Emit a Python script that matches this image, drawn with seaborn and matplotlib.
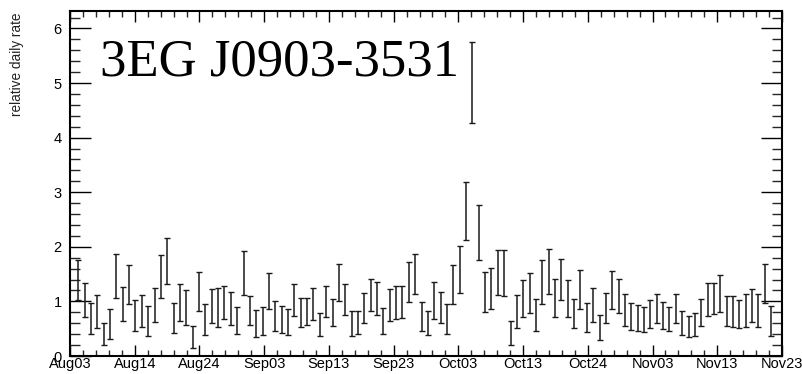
import numpy as np
import pandas as pd
import matplotlib
matplotlib.use("Agg")
import matplotlib.pyplot as plt
from matplotlib.ticker import FixedLocator, MultipleLocator
import seaborn as sns

# ---------------- data ----------------
source_name = "3EG J0903-3531"
y_label = "relative daily rate"
date_labels = ["Aug03", "Aug14", "Aug24", "Sep03", "Sep13", "Sep23",
               "Oct03", "Oct13", "Oct24", "Nov03", "Nov13", "Nov23"]
axis_days = 112  # Aug03 -> Nov23

rate = [1.39, 1.02, 0.69, 0.81, 0.41, 0.59, 1.47, 0.95, 1.31, 0.74,
        0.82, 0.64, 0.93, 1.46, 1.74, 0.70, 0.98, 0.89, 0.35, 1.18,
        0.67, 0.92, 0.89, 0.98, 0.87, 0.65, 1.52, 0.83, 0.60, 0.64,
        1.19, 0.73, 0.67, 0.63, 1.03, 0.80, 0.82, 0.95, 0.58, 1.00,
        0.80, 1.34, 1.04, 0.60, 0.61, 0.885, 1.12, 1.05, 0.64, 0.93,
        0.98, 0.99, 1.36, 1.50, 0.72, 0.60, 1.01, 0.89, 0.68, 1.31,
        1.59, 2.66, 5.01, 2.26, 1.17, 1.23, 1.53, 1.52, 0.43, 0.81,
        1.06, 1.15, 0.75, 1.36, 1.55, 1.06, 1.40, 1.06, 0.78, 1.22,
        0.71, 0.93, 0.52, 0.88, 1.21, 1.10, 0.84, 0.73, 0.69, 0.675,
        0.77, 0.87, 0.74, 0.67, 0.87, 0.61, 0.54, 0.57, 0.80, 1.04,
        1.05, 1.15, 0.82, 0.81, 0.77, 0.83, 0.93, 0.83, 1.33, 0.64]
err = [0.37, 0.31, 0.28, 0.30, 0.20, 0.27, 0.40, 0.31, 0.36, 0.28,
       0.29, 0.27, 0.31, 0.39, 0.43, 0.27, 0.33, 0.32, 0.20, 0.36,
       0.28, 0.31, 0.35, 0.31, 0.31, 0.25, 0.41, 0.27, 0.25, 0.25,
       0.33, 0.27, 0.24, 0.24, 0.29, 0.27, 0.25, 0.29, 0.21, 0.29,
       0.25, 0.34, 0.28, 0.23, 0.21, 0.275, 0.29, 0.30, 0.24, 0.29,
       0.31, 0.30, 0.37, 0.37, 0.27, 0.22, 0.34, 0.29, 0.28, 0.36,
       0.43, 0.53, 0.74, 0.50, 0.36, 0.375, 0.41, 0.42, 0.22, 0.30,
       0.34, 0.37, 0.29, 0.40, 0.41, 0.35, 0.375, 0.34, 0.27, 0.36,
       0.27, 0.31, 0.235, 0.28, 0.35, 0.305, 0.29, 0.245, 0.24, 0.23,
       0.26, 0.26, 0.25, 0.22, 0.26, 0.22, 0.20, 0.21, 0.25, 0.30,
       0.28, 0.34, 0.27, 0.28, 0.26, 0.30, 0.30, 0.30, 0.36, 0.28]

first_bin_offset = 1.3  # days after the axis start for the first bin centre
df = pd.DataFrame({"day": np.arange(len(rate)) + first_bin_offset,
                   "rate": rate, "err": err})

# ---------------- style ----------------
sns.set_style("ticks")
plt.rcParams["font.family"] = ["Liberation Sans", "DejaVu Sans"]

fig = plt.figure(figsize=(8.02, 3.74), dpi=100)
ax = fig.add_axes([70 / 802, 18 / 374, 712 / 802, 345 / 374])

ax.errorbar(df["day"], df["rate"], yerr=df["err"], fmt="none",
            ecolor="#1a1a1a", elinewidth=1.1, capsize=1.9, capthick=1.0)

ax.set_xlim(0, axis_days)
ax.set_ylim(0, 6.32)

major_x = np.linspace(0, axis_days, len(date_labels))
ax.xaxis.set_major_locator(FixedLocator(major_x))
ax.xaxis.set_minor_locator(MultipleLocator(axis_days / (5 * (len(date_labels) - 1))))
ax.set_xticklabels(date_labels)
ax.yaxis.set_major_locator(MultipleLocator(1))
ax.yaxis.set_minor_locator(MultipleLocator(0.2))

for sp in ax.spines.values():
    sp.set_visible(True)
    sp.set_linewidth(1.5)
    sp.set_color("black")

ax.tick_params(axis="x", which="major", direction="in", length=7.9, width=1.0,
               top=True, bottom=True, pad=1, labelsize=10.5, colors="black")
ax.tick_params(axis="x", which="minor", direction="in", length=4.3, width=1.0,
               top=True, bottom=True)
ax.tick_params(axis="y", which="major", direction="in", length=15, width=1.0,
               left=True, right=True, pad=6, labelsize=10.5, colors="black")
ax.tick_params(axis="y", which="minor", direction="in", length=7.2, width=1.0,
               left=True, right=True)

ax.text(30 / 712, (356 - 75) / 345, source_name, transform=ax.transAxes,
        fontsize=38, family=["Liberation Serif", "DejaVu Serif"],
        ha="left", va="baseline", color="black")

fig.text(17 / 802, 1 - 13 / 374, y_label, rotation=90, ha="center", va="top",
         fontsize=9.8, color="#222222")

fig.savefig("out.png", dpi=100)
